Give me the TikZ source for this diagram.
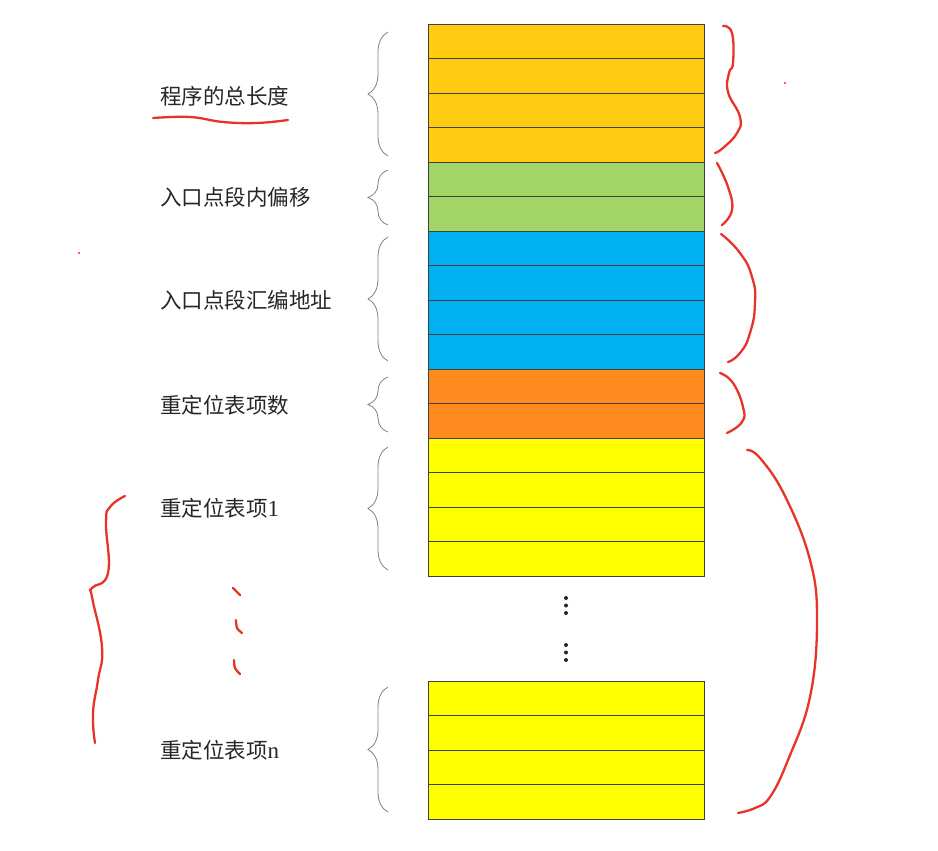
\documentclass[tikz,border=0pt]{standalone}
\usepackage{fontspec}
\setmainfont{Liberation Serif}
\newfontfamily\cjk{Noto Sans CJK SC}
\usetikzlibrary{decorations.pathreplacing}
\definecolor{cgold}{RGB}{255,204,17}
\definecolor{cgreen}{RGB}{163,212,102}
\definecolor{cblue}{RGB}{0,176,240}
\definecolor{corange}{RGB}{255,138,30}
\definecolor{cyellow}{RGB}{255,255,0}
\definecolor{pen}{RGB}{232,52,40}
\tikzset{
  cell/.style={draw=black!75, line width=0.7pt, minimum width=276pt, minimum height=34.5pt, inner sep=0pt, outer sep=0pt},
  lbl/.style={anchor=west, inner sep=0pt, font=\fontsize{21.5}{25}\selectfont, text=black!85},
  graybrace/.style={draw=black!50, line width=0.8pt, decorate, decoration={brace, amplitude=20pt}},
  ink/.style={draw=pen, line width=2.3pt, line cap=round, line join=round},
  vdot/.style={circle, fill=black!85, inner sep=0pt, minimum size=4pt}
}
\begin{document}
\begin{tikzpicture}[x=1pt, y=-1pt]
\useasboundingbox (0,0) rectangle (938,851);
% cells
\foreach \i/\c in {0/cgold,1/cgold,2/cgold,3/cgold,4/cgreen,5/cgreen,6/cblue,7/cblue,8/cblue,9/cblue,10/corange,11/corange,12/cyellow,13/cyellow,14/cyellow,15/cyellow}{
  \node[cell, fill=\c] (r\i) at (566, 24+34.5*\i+17.25) {};
}
\foreach \i in {0,1,2,3}{
  \node[cell, fill=cyellow] (s\i) at (566, 681+34.5*\i+17.25) {};
}
% vertical dots
\foreach \y/\n in {598/d1,605.5/d2,613/d3,645/d4,652.5/d5,660/d6}{
  \node[vdot] (\n) at (566,\y) {};
}
% gray braces
\coordinate (b1a) at (388,156); \coordinate (b1b) at (388,32);
\coordinate (b2a) at (388,225); \coordinate (b2b) at (388,170);
\coordinate (b3a) at (388,361); \coordinate (b3b) at (388,237);
\coordinate (b4a) at (388,432); \coordinate (b4b) at (388,377);
\coordinate (b5a) at (388,570); \coordinate (b5b) at (388,447);
\coordinate (b6a) at (388,812); \coordinate (b6b) at (388,687);
\draw[graybrace] (b1a) -- (b1b);
\draw[graybrace] (b2a) -- (b2b);
\draw[graybrace] (b3a) -- (b3b);
\draw[graybrace] (b4a) -- (b4b);
\draw[graybrace] (b5a) -- (b5b);
\draw[graybrace] (b6a) -- (b6b);
% labels
\node[lbl] (t1) at (160,96) {\cjk 程序的总长度};
\node[lbl] (t2) at (160,197) {\cjk 入口点段内偏移};
\node[lbl] (t3) at (160,300) {\cjk 入口点段汇编地址};
\node[lbl] (t4) at (160,405) {\cjk 重定位表项数};
\node[lbl] (t5) at (160,508) {{\cjk 重定位表项}\fontsize{23}{25}\selectfont 1};
\node[lbl] (t6) at (160,750) {{\cjk 重定位表项}\fontsize{23}{25}\selectfont n};
% red handwritten marks
\draw[ink] plot[smooth, tension=0.7] coordinates {(153,118) (190,117) (223,122) (257,123) (288,120)};
\draw[ink] plot[smooth, tension=0.8] coordinates {(723,26) (732,33) (733,63) (729,73) (728,92) (740,117) (737,133) (723,148) (715,153)};
\draw[ink] plot[smooth, tension=0.8] coordinates {(717,163) (728,187) (732,210) (722,225)};
\draw[ink] plot[smooth, tension=0.9] coordinates {(721,234) (740,253) (752,277) (755,303) (750,333) (740,353) (728,362)};
\draw[ink] plot[smooth, tension=0.8] coordinates {(720,373) (733,383) (743,407) (742,422) (727,433)};
\draw[ink] plot[smooth, tension=0.7] coordinates {(747,450) (760,458) (785,496) (810,560) (817,620) (810,697) (788,760) (770,797) (755,808) (738,813)};
\draw[ink] plot[smooth, tension=0.8] coordinates {(125,496) (110,507) (106,523) (108,573) (92,588) (92,597) (102,647) (98,680) (93,713) (95,743)};
\draw[ink] (233,588) -- (240,595);
\draw[ink] plot[smooth] coordinates {(236,620) (237,628) (242,633)};
\draw[ink] plot[smooth] coordinates {(234,660) (235,668) (240,674)};
\fill[pen] (785,83) circle (1.2pt);
\fill[pen] (79,253) circle (1.2pt);
\end{tikzpicture}
\end{document}
